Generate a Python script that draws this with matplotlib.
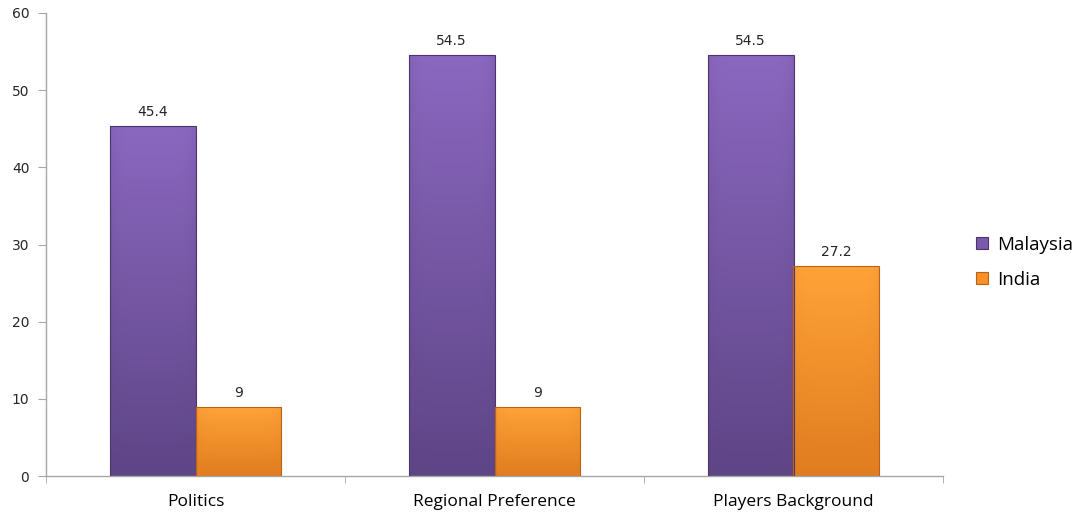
import numpy as np
import matplotlib
matplotlib.use("Agg")
import matplotlib.pyplot as plt
from matplotlib.colors import LinearSegmentedColormap
from matplotlib.patches import Patch

categories = ["Politics", "Regional Preference", "Players Background"]
series_names = ["Malaysia", "India"]
malaysia = [45.4, 54.5, 54.5]
india = [9, 9, 27.2]
value_labels_malaysia = ["45.4", "54.5", "54.5"]
value_labels_india = ["9", "9", "27.2"]
yticks = [0, 10, 20, 30, 40, 50, 60]

fig = plt.figure(figsize=(10.9, 5.12), dpi=100)
ax = fig.add_axes([46 / 1090, 36 / 512, (943 - 46) / 1090, (476 - 13) / 512])

x = np.arange(len(categories))
width = 0.286

styles = {
    "Malaysia": dict(top="#8b68c0", bottom="#5e4586", edge="#4a356c", mid="#7a5aaa"),
    "India": dict(top="#ffa338", bottom="#e07d20", edge="#b9631a", mid="#f79128"),
}

def shade_bar(rect, top, bottom, edge):
    x0, y0 = rect.get_x(), rect.get_y()
    w, h = rect.get_width(), rect.get_height()
    cmap = LinearSegmentedColormap.from_list("g", [bottom, top])
    vert = np.linspace(0, 1, 256)[:, None]
    horiz = np.linspace(0, 1, 64)[None, :]
    # slight darkening towards the side edges for a bevelled look
    side = 1 - 0.18 * (np.abs(horiz - 0.5) * 2) ** 6
    img = vert * side
    im = ax.imshow(img, cmap=cmap, vmin=0, vmax=1, origin="lower", aspect="auto",
                   extent=(x0, x0 + w, y0, y0 + h), zorder=2, interpolation="bilinear")
    im.set_clip_path(rect)
    rect.set_facecolor("none")
    rect.set_edgecolor(edge)
    rect.set_linewidth(0.8)
    rect.set_zorder(3)

bars_m = ax.bar(x - width / 2, malaysia, width, label="Malaysia", color=styles["Malaysia"]["mid"])
bars_i = ax.bar(x + width / 2, india, width, label="India", color=styles["India"]["mid"])

for bars, key in ((bars_m, "Malaysia"), (bars_i, "India")):
    s = styles[key]
    for r in bars:
        shade_bar(r, s["top"], s["bottom"], s["edge"])

for bars, labels in ((bars_m, value_labels_malaysia), (bars_i, value_labels_india)):
    for r, lab in zip(bars, labels):
        ax.annotate(lab, (r.get_x() + r.get_width() / 2, r.get_height()),
                    xytext=(0, 5), textcoords="offset points", ha="center", va="bottom",
                    fontsize=10, color="#262626", family="DejaVu Sans")

ax.set_xlim(-0.5, len(categories) - 0.5)
ax.set_ylim(0, 60)
ax.set_yticks(yticks)
ax.set_yticklabels([str(t) for t in yticks], fontsize=10, color="#262626", family="DejaVu Sans")
ax.set_xticks(x)
ax.set_xticklabels(categories, fontsize=12.5, color="#000000", family="Open Sans")
ax.set_xticks(np.arange(len(categories) + 1) - 0.5, minor=True)
ax.tick_params(axis="x", which="major", length=0, pad=13)
ax.tick_params(axis="x", which="minor", length=5, color="#a6a6a6", direction="out")
ax.tick_params(axis="y", length=6, color="#a6a6a6", pad=6)

for side in ("top", "right"):
    ax.spines[side].set_visible(False)
for side in ("left", "bottom"):
    ax.spines[side].set_color("#a6a6a6")
    ax.spines[side].set_linewidth(1.0)

handles = [Patch(facecolor=styles[k]["mid"], edgecolor=styles[k]["edge"], linewidth=0.8) for k in series_names]
leg = fig.legend(handles, series_names, loc="center left", bbox_to_anchor=(0.880, 0.488),
                 frameon=False, prop={"family": "Open Sans", "size": 13.5},
                 handlelength=0.65, handleheight=0.65, handletextpad=0.45, labelspacing=0.9)

fig.savefig("out.png", dpi=100)
